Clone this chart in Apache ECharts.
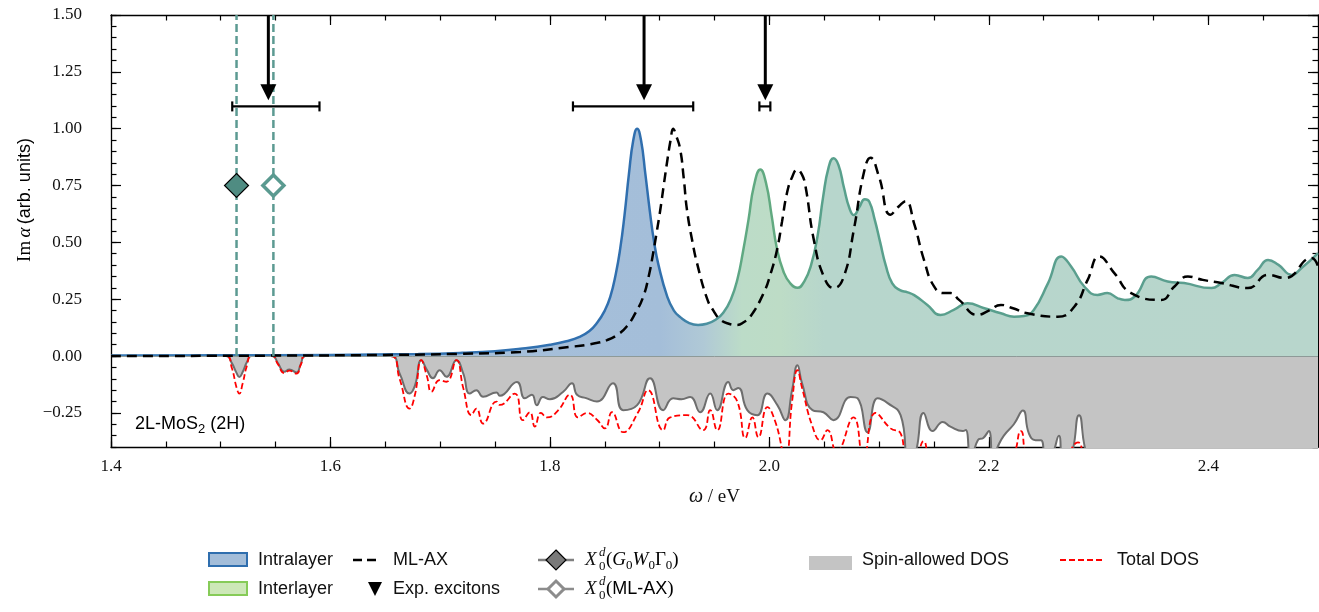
<!DOCTYPE html>
<html>
<head>
<meta charset="utf-8">
<script src="https://cdn.jsdelivr.net/npm/echarts@6/dist/echarts.min.js"></script>
<style>
html, body { margin: 0; padding: 0; background: #fff; }
#chart { width: 1319px; height: 612px; }
</style>
</head>
<body>
<div id="chart"></div>
<script>
const xMin = 1.4, xMax = 2.5, yMin = -0.4, yMax = 1.5
const xTicks = [1.4, 1.6, 1.8, 2.0, 2.2, 2.4]
const yTicks = [-0.25, 0, 0.25, 0.5, 0.75, 1.0, 1.25, 1.5]

// Im alpha (intralayer -> interlayer), [omega eV, value]
const imAlpha = [
  [1.40, 0.002], [1.50, 0.003], [1.60, 0.005], [1.68, 0.009], [1.72, 0.014], [1.75, 0.021],
  [1.773, 0.032], [1.80, 0.05], [1.815, 0.065], [1.827, 0.084], [1.836, 0.11], [1.843, 0.146],
  [1.850, 0.20], [1.855, 0.26], [1.860, 0.36], [1.864, 0.47], [1.868, 0.62], [1.872, 0.80],
  [1.876, 0.95], [1.8795, 1.0], [1.883, 0.95], [1.887, 0.80], [1.891, 0.64], [1.895, 0.50],
  [1.899, 0.40], [1.907, 0.26], [1.913, 0.20], [1.919, 0.17], [1.927, 0.145], [1.935, 0.137],
  [1.943, 0.142], [1.951, 0.16], [1.958, 0.19], [1.965, 0.25], [1.971, 0.34], [1.976, 0.46],
  [1.981, 0.60], [1.986, 0.75], [1.9918, 0.82], [1.997, 0.76], [2.002, 0.62], [2.007, 0.47],
  [2.013, 0.37], [2.019, 0.32], [2.0256, 0.30], [2.032, 0.33], [2.038, 0.40], [2.044, 0.53],
  [2.049, 0.70], [2.054, 0.83], [2.0584, 0.87], [2.063, 0.84], [2.068, 0.74], [2.073, 0.65],
  [2.077, 0.62], [2.082, 0.655], [2.087, 0.69], [2.091, 0.68], [2.096, 0.60], [2.101, 0.50],
  [2.106, 0.40], [2.112, 0.32], [2.119, 0.29], [2.126, 0.28], [2.132, 0.268], [2.144, 0.225],
  [2.156, 0.181], [2.168, 0.203], [2.1805, 0.232], [2.196, 0.21], [2.211, 0.188], [2.223, 0.173],
  [2.232, 0.176], [2.241, 0.203], [2.254, 0.321], [2.266, 0.438], [2.275, 0.394], [2.287, 0.306],
  [2.299, 0.269], [2.308, 0.277], [2.3175, 0.254], [2.324, 0.247], [2.333, 0.262], [2.348, 0.35],
  [2.363, 0.328], [2.378, 0.321], [2.403, 0.299], [2.412, 0.321], [2.424, 0.357], [2.436, 0.343],
  [2.445, 0.379], [2.4545, 0.423], [2.464, 0.401], [2.476, 0.357], [2.485, 0.387], [2.50, 0.453]
]

// ML-AX spectrum
const mlAx = [
  [1.40, 0.0], [1.55, 0.002], [1.65, 0.005], [1.72, 0.01], [1.773, 0.018], [1.818, 0.04],
  [1.84, 0.055], [1.852, 0.07], [1.862, 0.095], [1.870, 0.13], [1.878, 0.19], [1.885, 0.26],
  [1.890, 0.35], [1.894, 0.45], [1.8975, 0.55], [1.9005, 0.64], [1.904, 0.76], [1.907, 0.86],
  [1.910, 0.95], [1.9123, 1.0], [1.915, 0.97], [1.9187, 0.91], [1.922, 0.78], [1.925, 0.64],
  [1.930, 0.50], [1.934, 0.41], [1.9434, 0.25], [1.949, 0.20], [1.9553, 0.16], [1.963, 0.142],
  [1.9705, 0.137], [1.977, 0.15], [1.9826, 0.173], [1.9948, 0.277], [2.001, 0.36], [2.007, 0.468],
  [2.0115, 0.59], [2.0161, 0.718], [2.021, 0.79], [2.0253, 0.82], [2.0295, 0.80], [2.0329, 0.747],
  [2.0405, 0.512], [2.0496, 0.35], [2.0587, 0.299], [2.0679, 0.35], [2.077, 0.556], [2.0861, 0.806],
  [2.0922, 0.872], [2.0998, 0.791], [2.1105, 0.622], [2.1181, 0.659], [2.1242, 0.681], [2.1318, 0.585],
  [2.1409, 0.423], [2.1501, 0.306], [2.1592, 0.277], [2.1653, 0.277], [2.1729, 0.247], [2.1897, 0.181],
  [2.2, 0.2], [2.211, 0.225], [2.222, 0.21], [2.2353, 0.188], [2.2627, 0.173], [2.2779, 0.217],
  [2.2901, 0.335], [2.3007, 0.438], [2.3144, 0.365], [2.3297, 0.277], [2.3571, 0.247], [2.3692, 0.306],
  [2.3814, 0.35], [2.395, 0.335], [2.4119, 0.321], [2.4362, 0.299], [2.4545, 0.357], [2.4697, 0.343],
  [2.4941, 0.431], [2.5, 0.394]
]

// spin-allowed DOS (drawn downwards)
const dosSpin = [
  [1.40, 0], [1.505, 0], [1.510, -0.03], [1.5145, -0.075], [1.5169, -0.092], [1.520, -0.07],
  [1.524, -0.025], [1.528, 0], [1.547, 0], [1.552, -0.03], [1.558, -0.069], [1.5626, -0.059],
  [1.569, -0.072], [1.573, -0.035], [1.577, 0], [1.655, 0], [1.663, -0.076], [1.6721, -0.165],
  [1.677, -0.13], [1.6828, -0.018], [1.688, -0.062], [1.6934, -0.098], [1.6995, -0.062], [1.7057, -0.091],
  [1.7148, -0.018], [1.721, -0.076], [1.7269, -0.165], [1.733, -0.15], [1.7391, -0.179], [1.7513, -0.16],
  [1.7543, -0.175], [1.7699, -0.114], [1.7772, -0.186], [1.7836, -0.17], [1.7881, -0.216], [1.7936, -0.18],
  [1.80, -0.19], [1.8119, -0.158], [1.8201, -0.12], [1.8247, -0.17], [1.833, -0.185], [1.8429, -0.2],
  [1.8575, -0.12], [1.8667, -0.238], [1.8795, -0.216], [1.8913, -0.098], [1.9032, -0.238], [1.9123, -0.186],
  [1.92, -0.19], [1.9279, -0.18], [1.9370, -0.247], [1.9461, -0.165], [1.9525, -0.238], [1.9626, -0.114],
  [1.9671, -0.15], [1.9717, -0.14], [1.9799, -0.238], [1.9890, -0.26], [1.9982, -0.165], [2.0073, -0.216],
  [2.0146, -0.282], [2.0207, -0.15], [2.0256, -0.04], [2.0298, -0.12], [2.0393, -0.238], [2.0493, -0.247],
  [2.0584, -0.282], [2.0740, -0.18], [2.0804, -0.186], [2.0895, -0.335], [2.0986, -0.186], [2.1078, -0.207],
  [2.1196, -0.26], [2.127, -0.46], [2.133, -0.43], [2.1406, -0.25], [2.1489, -0.33], [2.158, -0.29],
  [2.165, -0.31], [2.1763, -0.33], [2.179, -0.325], [2.1836, -0.46], [2.19, -0.37], [2.195, -0.36],
  [2.2, -0.33], [2.2037, -0.45], [2.208, -0.40], [2.2137, -0.35], [2.2228, -0.30], [2.2311, -0.24],
  [2.2365, -0.34], [2.2425, -0.37], [2.2475, -0.37], [2.252, -0.46], [2.258, -0.43], [2.2639, -0.35],
  [2.268, -0.46], [2.275, -0.44], [2.2822, -0.26], [2.2913, -0.46], [2.31, -0.55], [2.34, -0.5],
  [2.38, -0.6], [2.42, -0.52], [2.46, -0.58], [2.5, -0.55]
]

// total DOS
const dosTotal = [
  [1.40, 0], [1.505, 0], [1.510, -0.05], [1.5145, -0.14], [1.5169, -0.165], [1.520, -0.12],
  [1.524, -0.04], [1.528, 0], [1.547, 0], [1.552, -0.035], [1.558, -0.075], [1.5626, -0.064],
  [1.569, -0.077], [1.573, -0.038], [1.577, 0], [1.655, 0], [1.663, -0.10], [1.6721, -0.231],
  [1.677, -0.17], [1.6828, -0.018], [1.688, -0.09], [1.692, -0.157], [1.6995, -0.106], [1.7057, -0.113],
  [1.7148, -0.018], [1.721, -0.14], [1.7285, -0.26], [1.733, -0.231], [1.7391, -0.297], [1.7513, -0.2],
  [1.7543, -0.215], [1.7680, -0.165], [1.7753, -0.282], [1.7817, -0.247], [1.7863, -0.31], [1.7918, -0.25],
  [1.7973, -0.27], [1.8073, -0.24], [1.8183, -0.17], [1.8256, -0.27], [1.8338, -0.25], [1.8429, -0.28],
  [1.8502, -0.318], [1.8566, -0.247], [1.8667, -0.335], [1.8804, -0.247], [1.8895, -0.15], [1.9032, -0.326],
  [1.9096, -0.27], [1.9251, -0.26], [1.9397, -0.326], [1.9461, -0.238], [1.9525, -0.326], [1.9626, -0.165],
  [1.9708, -0.2], [1.9781, -0.36], [1.9845, -0.27], [1.9900, -0.357], [1.9982, -0.225], [2.0055, -0.29],
  [2.0146, -0.45], [2.0207, -0.2], [2.0256, -0.062], [2.0298, -0.14], [2.0393, -0.31], [2.0466, -0.37],
  [2.0530, -0.326], [2.0612, -0.42], [2.0767, -0.27], [2.0858, -0.45], [2.0968, -0.25], [2.1105, -0.318],
  [2.1196, -0.34], [2.125, -0.46], [2.133, -0.45], [2.1406, -0.375], [2.147, -0.45], [2.17, -0.52],
  [2.2, -0.48], [2.22, -0.45], [2.2292, -0.33], [2.236, -0.45], [2.26, -0.52], [2.2813, -0.38],
  [2.29, -0.5], [2.33, -0.6], [2.4, -0.65], [2.5, -0.6]
]

// experimental excitons: [centre, error low, error high]
const expExcitons = [[1.5434, 1.5105, 1.590], [1.8858, 1.821, 1.9306], [1.9963, 1.9909, 2.0009]]
const arrowTip = 1.125
const barLevel = 1.098

// dark exciton energies X0^d
const x0dG0W0 = 1.5144
const x0dMlAx = 1.548
const diamondLevel = 0.75

const serif = '"Liberation Serif", "DejaVu Serif", serif'
const sans = '"Liberation Sans", "DejaVu Sans", sans-serif'

const chart = echarts.init(document.getElementById('chart'))

const frac = (w) => (w - xMin) / (xMax - xMin)
const lineGrad = new echarts.graphic.LinearGradient(0, 0, 1, 0, [
  { offset: 0, color: '#3a7ab4' },
  { offset: frac(1.90), color: '#2f6eae' },
  { offset: frac(1.94), color: '#4a8fa3' },
  { offset: frac(1.975), color: '#5fa982' },
  { offset: frac(2.01), color: '#62aa80' },
  { offset: frac(2.05), color: '#58a08c' },
  { offset: 1, color: '#5c9e90' }
])
const fillGrad = new echarts.graphic.LinearGradient(0, 0, 1, 0, [
  { offset: 0, color: '#a9c2dc' },
  { offset: frac(1.90), color: '#a4bed9' },
  { offset: frac(1.94), color: '#b0c9d6' },
  { offset: frac(1.975), color: '#bcdcc8' },
  { offset: frac(2.01), color: '#bddcc6' },
  { offset: frac(2.05), color: '#b7d6cc' },
  { offset: 1, color: '#b8d6cc' }
])

const tickStyle = { color: '#000', width: 1.2 }

const xAxes = [
  {
    type: 'value', min: xMin, max: xMax, position: 'bottom',
    axisLine: { show: true, onZero: false, lineStyle: { color: '#000', width: 1.3 } },
    axisTick: { show: true, inside: true, length: 10, lineStyle: tickStyle, customValues: xTicks },
    axisLabel: {
      customValues: xTicks, margin: 11, color: '#111', fontFamily: serif, fontSize: 17,
      formatter: v => v.toFixed(1)
    },
    splitLine: { show: false },
    name: '{i|ω} / eV', nameLocation: 'middle', nameGap: 40,
    nameTextStyle: {
      fontFamily: serif, fontSize: 19, color: '#111',
      rich: { i: { fontFamily: serif, fontSize: 20, fontStyle: 'italic', color: '#111' } }
    }
  },
  {
    type: 'value', min: xMin, max: xMax, interval: 0.05, position: 'bottom',
    axisLine: { show: false, onZero: false }, axisLabel: { show: false }, splitLine: { show: false },
    axisTick: { show: true, inside: true, length: 5.5, lineStyle: tickStyle }
  },
  {
    type: 'value', min: xMin, max: xMax, position: 'top',
    axisLine: { show: true, onZero: false, lineStyle: { color: '#000', width: 1.3 } },
    axisTick: { show: true, inside: true, length: 10, lineStyle: tickStyle, customValues: xTicks },
    axisLabel: { show: false }, splitLine: { show: false }
  },
  {
    type: 'value', min: xMin, max: xMax, interval: 0.05, position: 'top',
    axisLine: { show: false, onZero: false }, axisLabel: { show: false }, splitLine: { show: false },
    axisTick: { show: true, inside: true, length: 5.5, lineStyle: tickStyle }
  }
]

const yAxes = [
  {
    type: 'value', min: yMin, max: yMax, position: 'left',
    axisLine: { show: true, onZero: false, lineStyle: { color: '#000', width: 1.3 } },
    axisTick: { show: true, inside: true, length: 10, lineStyle: tickStyle, customValues: yTicks },
    axisLabel: {
      customValues: yTicks, margin: 29, color: '#111', fontFamily: serif, fontSize: 17,
      formatter: v => v.toFixed(2).replace('-', '\u2212')
    },
    splitLine: { show: false }
  },
  {
    type: 'value', min: yMin, max: yMax, interval: 0.05, position: 'left',
    axisLine: { show: false, onZero: false }, axisLabel: { show: false }, splitLine: { show: false },
    axisTick: { show: true, inside: true, length: 5.5, lineStyle: tickStyle }
  },
  {
    type: 'value', min: yMin, max: yMax, position: 'right',
    axisLine: { show: true, onZero: false, lineStyle: { color: '#000', width: 1.3 } },
    axisTick: { show: true, inside: true, length: 10, lineStyle: tickStyle, customValues: yTicks },
    axisLabel: { show: false }, splitLine: { show: false }
  },
  {
    type: 'value', min: yMin, max: yMax, interval: 0.05, position: 'right',
    axisLine: { show: false, onZero: false }, axisLabel: { show: false }, splitLine: { show: false },
    axisTick: { show: true, inside: true, length: 5.5, lineStyle: tickStyle }
  }
]

const r1 = 560, r2 = 589
const legendText = (x, y, text) => ({
  type: 'text', x, y,
  style: { text, fontFamily: sans, fontSize: 18, fill: '#111', verticalAlign: 'middle' }
})
const subRich = {
  n: { fontFamily: serif, fontSize: 19, color: '#111' },
  i: { fontFamily: serif, fontSize: 19, fontStyle: 'italic', color: '#111' },
  s: { fontFamily: serif, fontSize: 13, color: '#111', padding: [12, 0, 0, 0] },
  f: { fontFamily: sans, fontSize: 18, color: '#111' }
}
const xSymbol = (x, y) => [
  { type: 'text', x, y, style: { text: 'X', fontFamily: serif, fontSize: 19, fontStyle: 'italic', fill: '#111', verticalAlign: 'middle' } },
  { type: 'text', x: x + 14, y: y - 7, style: { text: 'd', fontFamily: serif, fontSize: 13, fontStyle: 'italic', fill: '#111', verticalAlign: 'middle' } },
  { type: 'text', x: x + 14, y: y + 7, style: { text: '0', fontFamily: serif, fontSize: 13, fill: '#111', verticalAlign: 'middle' } }
]

const graphics = [
  // y axis title
  {
    type: 'text', x: 25, y: 200, rotation: Math.PI / 2,
    style: {
      text: '{n|Im} {i|α} {f|(arb. units)}', align: 'center', verticalAlign: 'middle',
      rich: {
        n: { fontFamily: serif, fontSize: 19, color: '#111' },
        i: { fontFamily: serif, fontSize: 19, fontStyle: 'italic', color: '#111' },
        f: { fontFamily: sans, fontSize: 18, color: '#111' }
      }
    }
  },
  // in-plot annotations
  {
    type: 'text', x: 1300, y: 334,
    style: {
      text: '{n|↑  Im} {i|α}', align: 'right', verticalAlign: 'middle',
      rich: {
        n: { fontFamily: serif, fontSize: 19, color: '#111' },
        i: { fontFamily: serif, fontSize: 19, fontStyle: 'italic', color: '#111' }
      }
    }
  },
  {
    type: 'text', x: 1300, y: 379,
    style: { text: '↓  DOS', align: 'right', verticalAlign: 'middle', fontFamily: serif, fontSize: 19, fill: '#111' }
  },
  {
    type: 'text', x: 135, y: 424,
    style: {
      text: '{f|2L-MoS}{s|2}{f| (2H)}', verticalAlign: 'middle',
      rich: { f: { fontFamily: sans, fontSize: 18, color: '#111' }, s: { fontFamily: sans, fontSize: 13, color: '#111', padding: [10, 0, 0, 0] } }
    }
  },
  // legend
  { type: 'rect', shape: { x: 209, y: 553, width: 38, height: 13 }, style: { fill: '#a3bdd9', stroke: '#2f6eae', lineWidth: 2 } },
  legendText(258, r1, 'Intralayer'),
  { type: 'rect', shape: { x: 209, y: 582, width: 38, height: 13 }, style: { fill: '#cde8b8', stroke: '#86cb58', lineWidth: 2 } },
  legendText(258, r2, 'Interlayer'),
  { type: 'line', shape: { x1: 353, y1: r1, x2: 381, y2: r1 }, style: { stroke: '#000', lineWidth: 2.5, lineDash: [9, 5] } },
  legendText(393, r1, 'ML-AX'),
  { type: 'polygon', shape: { points: [[368, r2 - 7], [382, r2 - 7], [375, r2 + 7]] }, style: { fill: '#000' } },
  legendText(393, r2, 'Exp. excitons'),
  { type: 'line', shape: { x1: 538, y1: r1, x2: 574, y2: r1 }, style: { stroke: '#808080', lineWidth: 2.5 } },
  { type: 'polygon', shape: { points: [[556, r1 - 10], [566, r1], [556, r1 + 10], [546, r1]] }, style: { fill: '#7a7a7a', stroke: '#000', lineWidth: 1.2 } },
  ...xSymbol(585, r1),
  { type: 'text', x: 606, y: r1, style: { text: '{n|(}{i|G}{s|0}{i|W}{s|0}{n|Γ}{s|0}{n|)}', verticalAlign: 'middle', rich: subRich } },
  { type: 'line', shape: { x1: 538, y1: r2, x2: 574, y2: r2 }, style: { stroke: '#8c8c8c', lineWidth: 2.5 } },
  { type: 'polygon', shape: { points: [[556, r2 - 8], [564, r2], [556, r2 + 8], [548, r2]] }, style: { fill: '#fff', stroke: '#8c8c8c', lineWidth: 3 } },
  ...xSymbol(585, r2),
  { type: 'text', x: 606, y: r2, style: { text: '{n|(}{f|ML-AX}{n|)}', verticalAlign: 'middle', rich: subRich } },
  { type: 'rect', shape: { x: 809, y: 556, width: 43, height: 14 }, style: { fill: '#c4c4c4' } },
  legendText(862, r1, 'Spin-allowed DOS'),
  { type: 'line', shape: { x1: 1060, y1: r1, x2: 1102, y2: r1 }, style: { stroke: '#ff0000', lineWidth: 2, lineDash: [6, 3] } },
  legendText(1117, r1, 'Total DOS')
]

const option = {
  animation: false,
  backgroundColor: '#fff',
  grid: { left: 111, right: 1, top: 15, bottom: 165, containLabel: false },
  xAxis: xAxes,
  yAxis: yAxes,
  graphic: graphics,
  series: [
    {
      name: 'Spin-allowed DOS', type: 'line', data: dosSpin, smooth: 0.5, symbol: 'none', z: 2,
      lineStyle: { color: '#6e6e6e', width: 2 },
      areaStyle: { color: '#c4c4c4', opacity: 1 },
      markLine: {
        silent: true, symbol: 'none', label: { show: false },
        lineStyle: { color: '#8e9a98', width: 1, type: 'solid' },
        data: [{ yAxis: 0 }]
      }
    },
    {
      name: 'Total DOS', type: 'line', data: dosTotal, smooth: 0.5, symbol: 'none', z: 3,
      lineStyle: { color: '#ff0000', width: 1.8, type: [6, 3] }
    },
    {
      name: 'Im alpha', type: 'line', data: imAlpha, smooth: 0.5, symbol: 'none', z: 4,
      lineStyle: { color: lineGrad, width: 2.5 },
      areaStyle: { color: fillGrad, opacity: 1 }
    },
    {
      name: 'ML-AX', type: 'line', data: mlAx, smooth: 0.5, symbol: 'none', z: 5,
      lineStyle: { color: '#000', width: 2.5, type: [10, 6] }
    },
    {
      name: 'X0d G0W0 line', type: 'line', data: [[x0dG0W0, 0], [x0dG0W0, yMax]], symbol: 'none', z: 6,
      lineStyle: { color: '#5c9a92', width: 2.5, type: [8, 4] }
    },
    {
      name: 'X0d ML-AX line', type: 'line', data: [[x0dMlAx, 0], [x0dMlAx, yMax]], symbol: 'none', z: 6,
      lineStyle: { color: '#5c9a92', width: 2.5, type: [8, 4] }
    },
    {
      name: 'X0d G0W0', type: 'scatter', data: [[x0dG0W0, diamondLevel]], symbol: 'diamond', symbolSize: 24, z: 7,
      itemStyle: { color: '#4f8c82', borderColor: '#000', borderWidth: 1.2, opacity: 1 }
    },
    {
      name: 'X0d ML-AX', type: 'scatter', data: [[x0dMlAx, diamondLevel]], symbol: 'diamond', symbolSize: 21, z: 7,
      itemStyle: { color: '#fff', borderColor: '#5a9a90', borderWidth: 3.5, opacity: 1 }
    },
    {
      name: 'Exp. excitons', type: 'custom', data: expExcitons, z: 8,
      renderItem: (params, api) => {
        const c = api.value(0), lo = api.value(1), hi = api.value(2)
        const top = api.coord([c, yMax])
        const tip = api.coord([c, arrowTip])
        const l = api.coord([lo, barLevel])
        const r = api.coord([hi, barLevel])
        const st = { stroke: '#000', lineWidth: 2.2 }
        return {
          type: 'group',
          children: [
            { type: 'line', shape: { x1: top[0], y1: top[1], x2: tip[0], y2: tip[1] - 12 }, style: { stroke: '#000', lineWidth: 3 } },
            { type: 'polygon', shape: { points: [[tip[0] - 8, tip[1] - 16], [tip[0] + 8, tip[1] - 16], [tip[0], tip[1]]] }, style: { fill: '#000' } },
            { type: 'line', shape: { x1: l[0], y1: l[1], x2: r[0], y2: r[1] }, style: st },
            { type: 'line', shape: { x1: l[0], y1: l[1] - 5, x2: l[0], y2: l[1] + 5 }, style: st },
            { type: 'line', shape: { x1: r[0], y1: r[1] - 5, x2: r[0], y2: r[1] + 5 }, style: st }
          ]
        }
      }
    }
  ]
}

chart.setOption(option)
</script>
</body>
</html>
